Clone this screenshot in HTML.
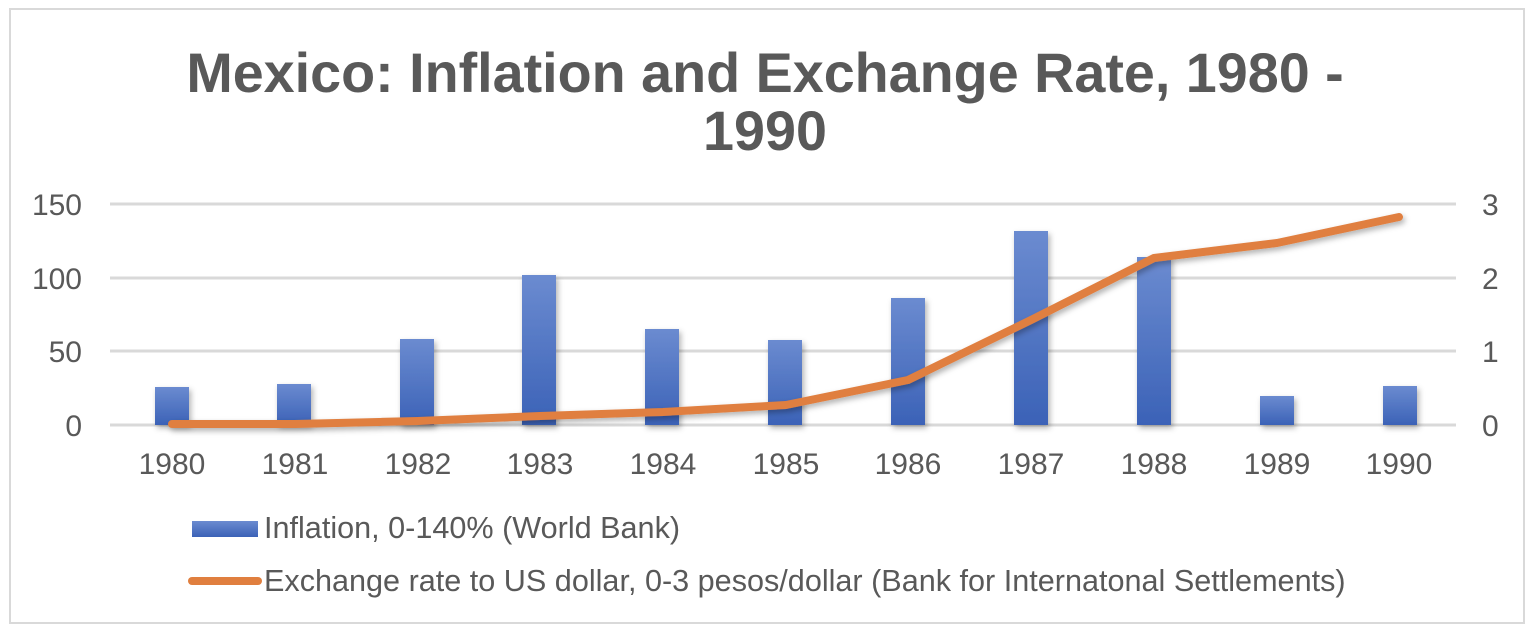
<!DOCTYPE html>
<html><head><meta charset="utf-8"><style>
body{margin:0;background:#fff;}
svg{display:block;font-family:"Liberation Sans",Arial,sans-serif;}
</style></head><body>
<svg width="1534" height="636" viewBox="0 0 1534 636">
<defs>
<linearGradient id="g" x1="0" y1="0" x2="0" y2="1"><stop offset="0" stop-color="#6b8bd0"/><stop offset="1" stop-color="#3b62b7"/></linearGradient>
<filter id="s" x="-20%" y="-20%" width="140%" height="140%"><feDropShadow dx="2" dy="3" stdDeviation="3" flood-color="#000" flood-opacity="0.3"/></filter>
</defs>
<rect x="10" y="9" width="1514" height="614" fill="#fff" stroke="#d9d9d9" stroke-width="2"/>
<text x="765" y="92" text-anchor="middle" font-size="55.7" font-weight="bold" fill="#595959">Mexico: Inflation and Exchange Rate, 1980 -</text>
<text x="765" y="150" text-anchor="middle" font-size="55.7" font-weight="bold" fill="#595959">1990</text>
<g stroke="#d9d9d9" stroke-width="3">
<line x1="110" y1="204" x2="1456" y2="204"/><line x1="110" y1="278" x2="1456" y2="278"/>
<line x1="110" y1="351" x2="1456" y2="351"/><line x1="110" y1="425" x2="1456" y2="425"/>
</g>
<g font-size="30" fill="#595959" text-anchor="end">
<text x="82" y="215">150</text><text x="82" y="289">100</text><text x="82" y="362">50</text><text x="82" y="436">0</text>
</g>
<g font-size="30" fill="#595959">
<text x="1482" y="215">3</text><text x="1482" y="289">2</text><text x="1482" y="362">1</text><text x="1482" y="436">0</text>
</g>
<g fill="url(#g)" filter="url(#s)">
<rect x="155" y="387" width="34" height="38"/>
<rect x="277" y="384" width="34" height="41"/>
<rect x="400" y="339" width="34" height="86"/>
<rect x="522" y="275" width="34" height="150"/>
<rect x="645" y="329" width="34" height="96"/>
<rect x="768" y="340" width="34" height="85"/>
<rect x="891" y="298" width="34" height="127"/>
<rect x="1014" y="231" width="34" height="194"/>
<rect x="1137" y="257" width="34" height="168"/>
<rect x="1260" y="396" width="34" height="29"/>
<rect x="1383" y="386" width="34" height="39"/>
</g>
<polyline filter="url(#s)" fill="none" stroke="#e07f3f" stroke-width="8" stroke-linecap="round" stroke-linejoin="round" points="172,424 295,424 418,421 540,416 663,412 786,405 908,380 1031,320 1154,258 1277,243 1399,217"/>
<g font-size="30" fill="#595959" text-anchor="middle">
<text x="172" y="474">1980</text><text x="295" y="474">1981</text><text x="418" y="474">1982</text><text x="540" y="474">1983</text><text x="663" y="474">1984</text><text x="786" y="474">1985</text><text x="908" y="474">1986</text><text x="1031" y="474">1987</text><text x="1154" y="474">1988</text><text x="1277" y="474">1989</text><text x="1399" y="474">1990</text>
</g>
<rect x="192" y="521" width="66" height="16" fill="url(#g)"/>
<text x="264" y="538" font-size="30.6" fill="#595959">Inflation, 0-140% (World Bank)</text>
<line x1="192" y1="581" x2="258" y2="581" stroke="#e07f3f" stroke-width="8" stroke-linecap="round"/>
<text x="264" y="591" font-size="30.6" fill="#595959">Exchange rate to US dollar, 0-3 pesos/dollar (Bank for Internatonal Settlements)</text>
</svg>
</body></html>
